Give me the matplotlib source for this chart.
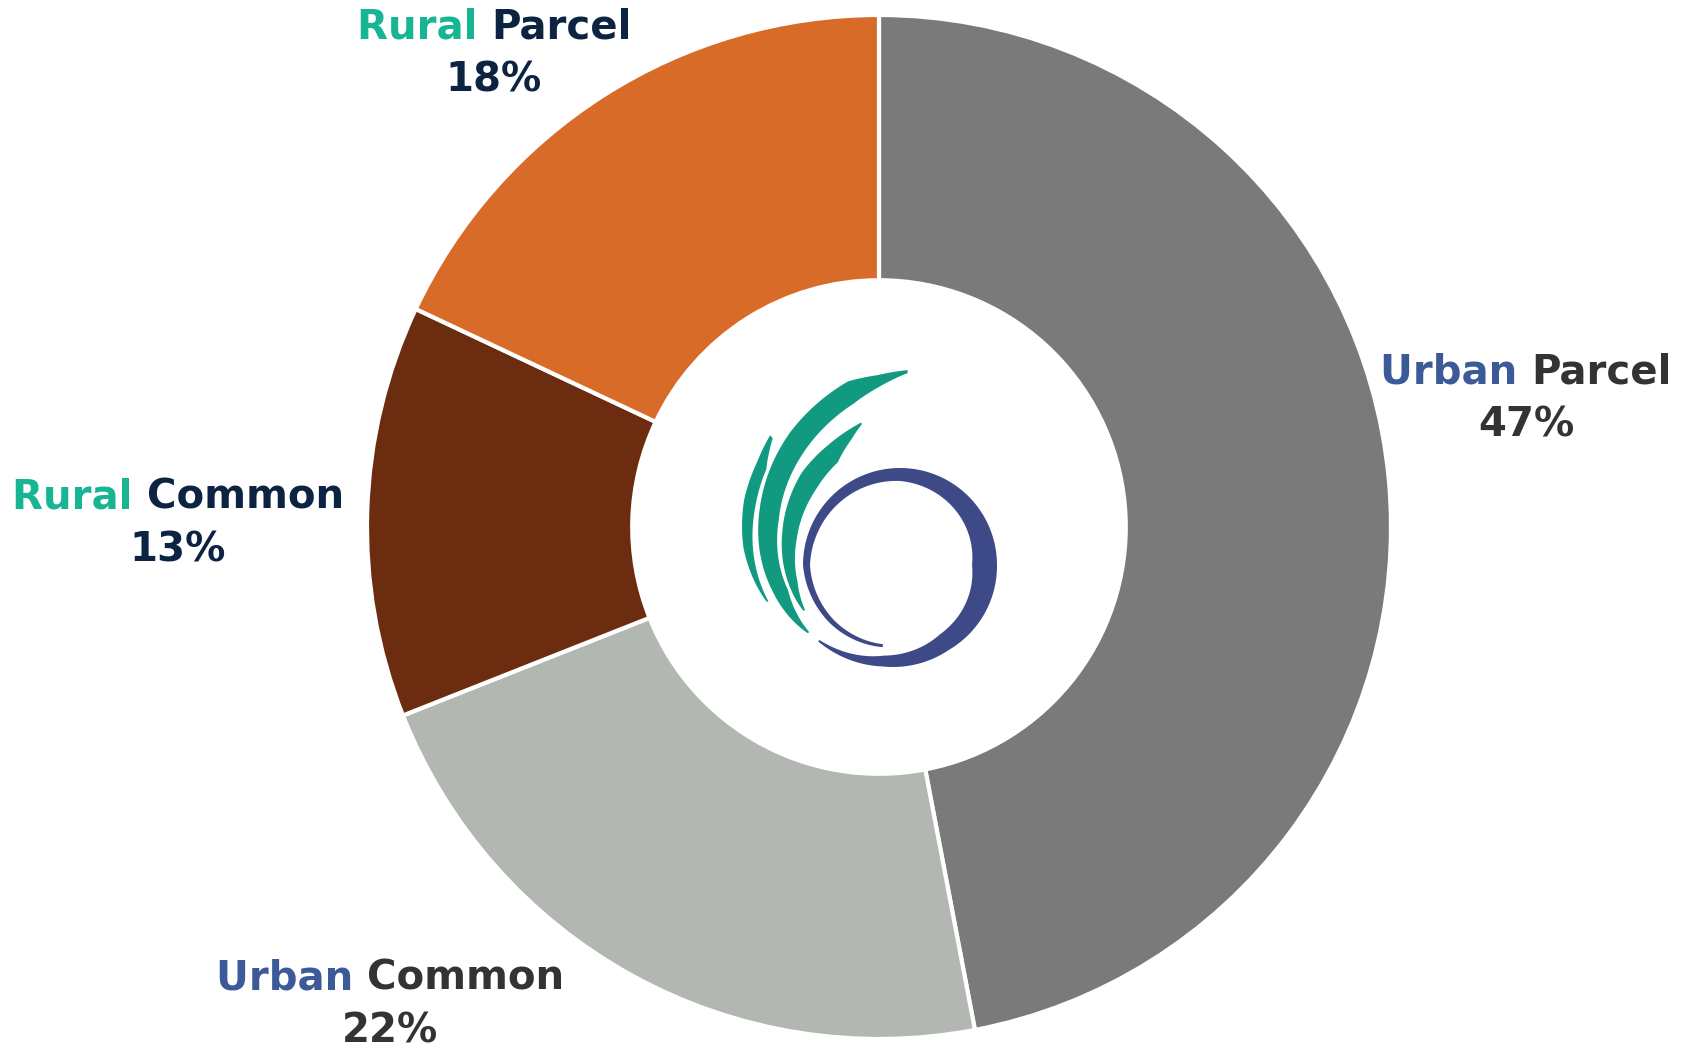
import numpy as np
import matplotlib
matplotlib.use("Agg")
import matplotlib.pyplot as plt
from matplotlib.offsetbox import TextArea, HPacker, VPacker, AnnotationBbox
from matplotlib.patches import Polygon

# data
categories = ["Urban Parcel", "Urban Common", "Rural Common", "Rural Parcel"]
shares = [47, 22, 13, 18]
slice_colors = ["#7a7a7a", "#b3b7b2", "#6b2c10", "#d96b29"]

# label words: first word, second word, colours
first_words = ["Urban", "Urban", "Rural", "Rural"]
second_words = ["Parcel", "Common", "Common", "Parcel"]
first_colors = ["#3d5a98", "#3d5a98", "#18b595", "#18b595"]
second_colors = ["#333333", "#333333", "#0c2342", "#0c2342"]
label_pos = [(1526, 653), (390, 47), (178, 528), (494, 998)]

W, H = 1684, 1052
fig = plt.figure(figsize=(W / 100, H / 100), dpi=100)
ax = fig.add_axes([0, 0, 1, 1])

cx, cy, R = 879, 525, 512
ax.pie(shares, colors=slice_colors, startangle=90, counterclock=False,
       radius=R, center=(cx, cy),
       wedgeprops=dict(width=R * 0.518, edgecolor="white", linewidth=3))

ax.set_xlim(0, W)
ax.set_ylim(0, H)
ax.set_aspect("equal")
ax.axis("off")

# labels
font = dict(fontsize=29, fontweight="bold", family="DejaVu Sans")
for i in range(len(categories)):
    w1 = TextArea(first_words[i] + " ", textprops=dict(color=first_colors[i], **font))
    w2 = TextArea(second_words[i], textprops=dict(color=second_colors[i], **font))
    pct = TextArea(f"{shares[i]}%", textprops=dict(color=second_colors[i], **font))
    box = VPacker(children=[HPacker(children=[w1, w2], align="baseline", pad=0, sep=0), pct],
                  align="center", pad=0, sep=10)
    ab = AnnotationBbox(box, label_pos[i], xycoords="data", frameon=False,
                        box_alignment=(0.5, 0.5))
    ax.add_artist(ab)


# logo in the hole (centres given in image coords, y down)
def stroke(c, a_knots, ro_knots, ri_knots, color, n=300):
    a = np.linspace(a_knots[0], a_knots[-1], n)
    ro = np.interp(a, a_knots, ro_knots)
    ri = np.interp(a, a_knots, ri_knots)
    t = np.radians(a)
    x0, y0 = c[0], H - c[1]
    xs = np.r_[x0 + ro * np.cos(t), (x0 + ri * np.cos(t))[::-1]]
    ys = np.r_[y0 + ro * np.sin(t), (y0 + ri * np.sin(t))[::-1]]
    ax.add_patch(Polygon(np.column_stack([xs, ys]), closed=True, color=color, lw=0))


green = "#119a7f"
navy = "#3e4a87"
lc = (900, 590)
# three green sweeps (angle, outer radius, inner radius)
stroke(lc, [88, 96, 104, 125, 150, 180, 205],
       [220, 216, 215, 192, 162, 128, 102], [217, 204, 192, 168, 140, 112, 100], green)
stroke(lc, [103, 108, 116, 130, 154, 175, 192],
       [172, 168, 162, 153, 131, 113, 99], [170, 158, 142, 131, 115, 103, 97], green)
stroke(lc, [130, 138, 150, 165, 185],
       [202, 192, 180, 162, 134], [198, 180, 167, 152, 132], green)

# navy spiral ring
stroke((900, 565), [-137, -100, -60, 0, 90, 180, 220, 258],
       [112, 103, 98, 97, 97, 97, 91, 84],
       [110, 92, 80, 72, 84, 90, 86, 81], navy)

fig.savefig("out.png", dpi=100, facecolor="white")
